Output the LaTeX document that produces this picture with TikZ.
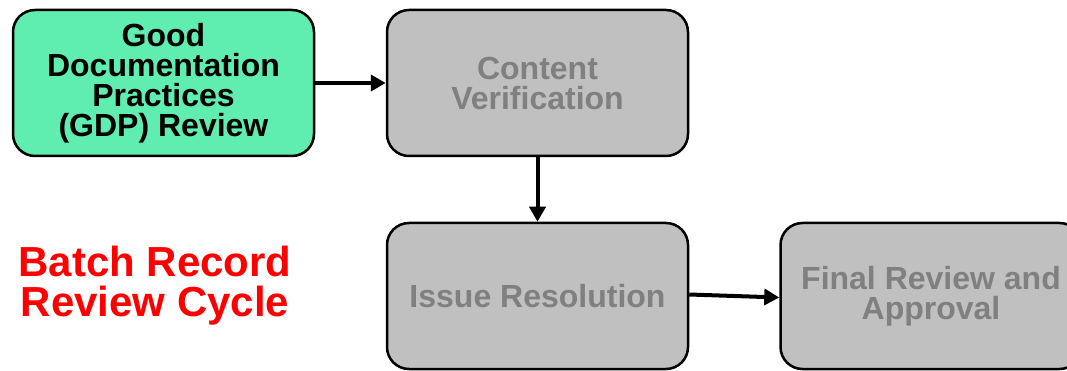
\documentclass[tikz,border=0pt]{standalone}
\usepackage{fontspec}
\setmainfont{Liberation Sans}
\usepackage{tikz}
\usetikzlibrary{arrows.meta}
\definecolor{gdpgreen}{HTML}{60EEB0}
\definecolor{stagegray}{HTML}{C0C0C0}
\definecolor{stagetext}{HTML}{808080}

\begin{document}
\begin{tikzpicture}[x=1pt, y=-1pt,
  stage/.style={draw=black, line width=2.5pt, rounded corners=22pt, fill=stagegray,
    minimum width=301pt, minimum height=146pt, inner sep=0pt, align=center,
    text=stagetext, font=\fontsize{32}{30}\selectfont\bfseries},
  flow/.style={line width=4pt, -{Triangle[length=15pt, width=16pt]}}]

\useasboundingbox (0, 0) rectangle (1067, 371);

\node[stage, fill=gdpgreen, text=black, font=\fontsize{32}{30}\selectfont\bfseries]
  (gdp) at (163.5, 83) {Good\\Documentation\\Practices\\(GDP) Review};
\node[stage] (verify) at (537.5, 83) {Content\\Verification};
\node[stage] (issue) at (537.5, 296) {Issue Resolution};
\node[stage] (final) at (931, 296) {Final Review and\\Approval};

\node[text=red, align=center, font=\fontsize{42}{40}\selectfont\bfseries]
  (title) at (155, 286) {Batch Record\\Review Cycle};

\draw[flow] (gdp) -- (verify);
\draw[flow] (verify) -- (issue);
\draw[flow] ([yshift=1.5pt]issue.east) -- ([yshift=-1.5pt]final.west);

\end{tikzpicture}
\end{document}
